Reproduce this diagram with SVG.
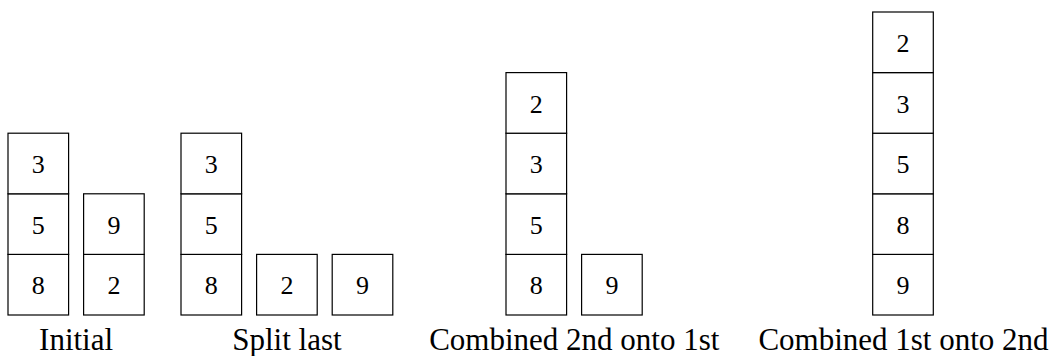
<svg xmlns="http://www.w3.org/2000/svg" width="1053" height="356" viewBox="0 0 1053 356">
<style>
.box rect{fill:#fff;stroke:#000;stroke-width:1.2}
.box text{font-family:"Liberation Serif","DejaVu Serif",serif;font-size:26px;text-anchor:middle;fill:#000}
.label{font-family:"Liberation Serif","DejaVu Serif",serif;font-size:31px;text-anchor:middle;fill:#000}
</style>
<rect width="1053" height="356" fill="#fff"/>
<g id="initial">
<g id="a1-8" class="box"><rect x="8" y="254.4" width="60.6" height="60.6"/><text x="38.3" y="294.4">8</text></g>
<g id="a1-5" class="box"><rect x="8" y="193.8" width="60.6" height="60.6"/><text x="38.3" y="233.8">5</text></g>
<g id="a1-3" class="box"><rect x="8" y="133.2" width="60.6" height="60.6"/><text x="38.3" y="173.2">3</text></g>
<g id="a2-2" class="box"><rect x="83.6" y="254.4" width="60.6" height="60.6"/><text x="113.9" y="294.4">2</text></g>
<g id="a2-9" class="box"><rect x="83.6" y="193.8" width="60.6" height="60.6"/><text x="113.9" y="233.8">9</text></g>
<text id="label-initial" class="label" x="76.1" y="350">Initial</text>
</g>
<g id="split">
<g id="b1-8" class="box"><rect x="181" y="254.4" width="60.6" height="60.6"/><text x="211.3" y="294.4">8</text></g>
<g id="b1-5" class="box"><rect x="181" y="193.8" width="60.6" height="60.6"/><text x="211.3" y="233.8">5</text></g>
<g id="b1-3" class="box"><rect x="181" y="133.2" width="60.6" height="60.6"/><text x="211.3" y="173.2">3</text></g>
<g id="b2-2" class="box"><rect x="256.6" y="254.4" width="60.6" height="60.6"/><text x="286.9" y="294.4">2</text></g>
<g id="b3-9" class="box"><rect x="332.2" y="254.4" width="60.6" height="60.6"/><text x="362.5" y="294.4">9</text></g>
<text id="label-split" class="label" x="286.9" y="350">Split last</text>
</g>
<g id="comb2on1">
<g id="c1-8" class="box"><rect x="506" y="254.4" width="60.6" height="60.6"/><text x="536.3" y="294.4">8</text></g>
<g id="c1-5" class="box"><rect x="506" y="193.8" width="60.6" height="60.6"/><text x="536.3" y="233.8">5</text></g>
<g id="c1-3" class="box"><rect x="506" y="133.2" width="60.6" height="60.6"/><text x="536.3" y="173.2">3</text></g>
<g id="c1-2" class="box"><rect x="506" y="72.6" width="60.6" height="60.6"/><text x="536.3" y="112.6">2</text></g>
<g id="c2-9" class="box"><rect x="581.6" y="254.4" width="60.6" height="60.6"/><text x="611.9" y="294.4">9</text></g>
<text id="label-comb2on1" class="label" x="574.3" y="350">Combined 2nd onto 1st</text>
</g>
<g id="comb1on2">
<g id="d1-9" class="box"><rect x="872.7" y="254.4" width="60.6" height="60.6"/><text x="903" y="294.4">9</text></g>
<g id="d1-8" class="box"><rect x="872.7" y="193.8" width="60.6" height="60.6"/><text x="903" y="233.8">8</text></g>
<g id="d1-5" class="box"><rect x="872.7" y="133.2" width="60.6" height="60.6"/><text x="903" y="173.2">5</text></g>
<g id="d1-3" class="box"><rect x="872.7" y="72.6" width="60.6" height="60.6"/><text x="903" y="112.6">3</text></g>
<g id="d1-2" class="box"><rect x="872.7" y="12" width="60.6" height="60.6"/><text x="903" y="52">2</text></g>
<text id="label-comb1on2" class="label" x="903.5" y="350">Combined 1st onto 2nd</text>
</g>
</svg>
